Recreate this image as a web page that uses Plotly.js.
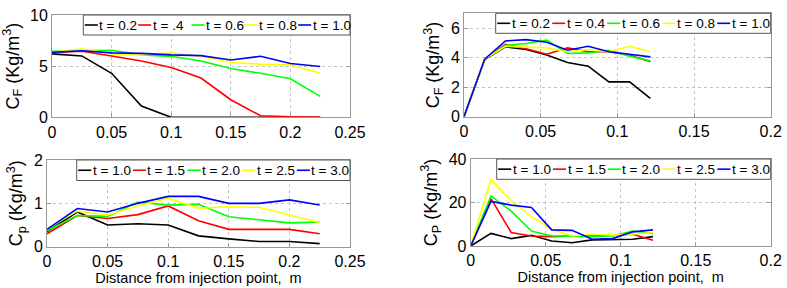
<!DOCTYPE html>
<html>
<head>
<meta charset="utf-8">
<script src="https://cdn.plot.ly/plotly-3.0.1.min.js"></script>
<style>html,body{margin:0;padding:0;background:#fff;}#chart{width:787px;height:288px;}</style>
</head>
<body>
<div id="chart"></div>
<script>
// ---------- data ----------
var xCoarse = [0, 0.025, 0.05, 0.075, 0.1, 0.125, 0.15, 0.175, 0.2, 0.225];
var xFine   = [0, 0.0135, 0.027, 0.0405, 0.054, 0.0675, 0.081, 0.0945, 0.108, 0.1215];

var seriesColors = ['#000000', '#ff0000', '#00ff00', '#ffff00', '#0000ff'];

var labelsTL = ['t = 0.2', 't = .4', 't = 0.6', 't = 0.8', 't = 1.0'];
var labelsTR = ['t = 0.2', 't = 0.4', 't = 0.6', 't = 0.8', 't = 1.0'];
var labelsB  = ['t = 1.0', 't = 1.5', 't = 2.0', 't = 2.5', 't = 3.0'];

// top-left: C_F vs distance
var cfA_t02 = [6.2, 6.0, 4.3, 1.1, 0, 0, 0, 0, 0, 0];
var cfA_t04 = [6.35, 6.45, 6.0, 5.5, 4.87, 3.84, 1.72, 0.15, 0.05, 0];
var cfA_t06 = [6.45, 6.5, 6.55, 6.1, 5.96, 5.5, 4.77, 4.3, 3.77, 2.05];
var cfA_t08 = [6.35, 6.7, 6.2, 6.1, 6.3, 5.96, 5.36, 5.2, 5.13, 4.3];
var cfA_t10 = [6.35, 6.5, 6.3, 6.25, 6.1, 6.03, 5.6, 5.96, 5.26, 4.97];

// top-right: C_F vs distance
var cfB_t02 = [0, 3.87, 4.73, 4.55, 4.17, 3.67, 3.42, 2.36, 2.36, 1.24];
var cfB_t04 = [0, 3.9, 4.9, 4.6, 4.23, 4.66, 4.4, 4.4, 4.17, 3.72];
var cfB_t06 = [0, 3.9, 4.84, 4.95, 5.18, 4.28, 4.32, 4.5, 4.1, 3.78];
var cfB_t08 = [0, 3.9, 4.77, 4.73, 4.66, 4.4, 4.55, 4.4, 4.77, 4.4];
var cfB_t10 = [0, 3.9, 5.13, 5.22, 5.04, 4.5, 4.77, 4.4, 4.23, 4.05];

// bottom-left: C_p vs distance
var cpA_t10 = [0.35, 0.8, 0.5, 0.53, 0.5, 0.25, 0.18, 0.12, 0.12, 0.07];
var cpA_t15 = [0.3, 0.72, 0.65, 0.74, 0.94, 0.6, 0.4, 0.4, 0.4, 0.3];
var cpA_t20 = [0.37, 0.72, 0.7, 1.03, 0.96, 0.98, 0.69, 0.62, 0.55, 0.57];
var cpA_t25 = [0.42, 0.82, 0.73, 0.94, 1.12, 0.89, 0.92, 0.91, 0.73, 0.56];
var cpA_t30 = [0.4, 0.88, 0.8, 1.0, 1.16, 1.16, 1.0, 1.0, 1.08, 0.96];

// bottom-right: C_P vs distance
var cpB_t10 = [0, 5.8, 3.4, 4.9, 2.3, 1.5, 2.8, 2.8, 3.1, 4.3];
var cpB_t15 = [0, 21.8, 6.2, 4.6, 4.3, 4.6, 4.6, 5.2, 5.4, 2.6];
var cpB_t20 = [0, 23, 16, 6.9, 4.6, 4.3, 4.3, 4.6, 6.9, 5.8];
var cpB_t25 = [0, 30.5, 20.8, 13.5, 7.7, 4.6, 5.4, 5.1, 5.4, 6.2];
var cpB_t30 = [0, 20.5, 18.8, 17.7, 7.4, 7.2, 3.1, 3.4, 6.5, 7.4];

// ---------- build ----------
var W = 787, H = 288;
function px(x) { return x / W; }
function py(y) { return 1 - y / H; }

var panels = [
  {xa: 'x',  ya: 'y',  x: xCoarse, ys: [cfA_t02, cfA_t04, cfA_t06, cfA_t08, cfA_t10], labels: labelsTL,
   box: [83.3, 15, 350, 35]},
  {xa: 'x2', ya: 'y2', x: xFine,   ys: [cfB_t02, cfB_t04, cfB_t06, cfB_t08, cfB_t10], labels: labelsTR,
   box: [495.7, 13.3, 770.7, 33.3]},
  {xa: 'x3', ya: 'y3', x: xCoarse, ys: [cpA_t10, cpA_t15, cpA_t20, cpA_t25, cpA_t30], labels: labelsB,
   box: [76.7, 160, 350, 180.5]},
  {xa: 'x4', ya: 'y4', x: xFine,   ys: [cpB_t10, cpB_t15, cpB_t20, cpB_t25, cpB_t30], labels: labelsB,
   box: [496.7, 159, 770.7, 179.3]}
];

var traces = [];
var shapes = [];
var annotations = [];
var FONT = '"Liberation Sans", Arial, Helvetica, sans-serif';

panels.forEach(function (p) {
  p.ys.forEach(function (vals, i) {
    traces.push({
      x: p.x, y: vals, xaxis: p.xa, yaxis: p.ya, type: 'scatter', mode: 'lines',
      name: p.labels[i], showlegend: false,
      line: {color: seriesColors[i], width: 1.6}
    });
  });
  // legend box
  var b = p.box;
  shapes.push({type: 'rect', xref: 'paper', yref: 'paper', layer: 'above',
    x0: px(b[0]), x1: px(b[2]), y0: py(b[3]), y1: py(b[1]),
    fillcolor: '#ffffff', line: {color: '#555555', width: 1}});
  var itemW = (b[2] - b[0]) / p.labels.length;
  var cy = (b[1] + b[3]) / 2;
  p.labels.forEach(function (lab, i) {
    var x0 = b[0] + 1.5 + i * itemW;
    shapes.push({type: 'line', xref: 'paper', yref: 'paper', layer: 'above',
      x0: px(x0), x1: px(x0 + 13), y0: py(cy), y1: py(cy),
      line: {color: seriesColors[i], width: 1.6}});
    annotations.push({xref: 'paper', yref: 'paper', x: px(x0 + 12.5), y: py(cy + 0.5),
      xanchor: 'left', yanchor: 'middle', showarrow: false, text: lab,
      font: {family: FONT, size: 13.5, color: '#000'}});
  });
});

function xAxis(dom, anchor, range, withTitle) {
  var a = {
    domain: dom, anchor: anchor, range: range, dtick: 0.05, tick0: 0,
    showline: true, mirror: 'ticks', linecolor: '#999999', linewidth: 1,
    ticks: 'inside', ticklen: 4, tickcolor: '#999999',
    showgrid: true, gridcolor: '#c4c4c4', griddash: 'dot', gridwidth: 1,
    zeroline: false, tickfont: {family: FONT, size: 16, color: '#000'},
    fixedrange: true
  };
  if (withTitle) {
    a.title = {text: 'Distance from injection point,  m', standoff: 0,
      font: {family: FONT, size: 14.5, color: '#000'}};
  }
  return a;
}
function yAxis(dom, anchor, range, dtick, title) {
  return {
    domain: dom, anchor: anchor, range: range, dtick: dtick, tick0: 0,
    showline: true, mirror: 'ticks', linecolor: '#999999', linewidth: 1,
    ticks: 'inside', ticklen: 4, tickcolor: '#999999',
    showgrid: true, gridcolor: '#c4c4c4', griddash: 'dot', gridwidth: 1,
    zeroline: false, tickfont: {family: FONT, size: 16, color: '#000'},
    title: {text: title, standoff: 6, font: {family: FONT, size: 18, color: '#000'}},
    fixedrange: true
  };
}

var layout = {
  width: W, height: H,
  margin: {l: 0, r: 0, t: 0, b: 0},
  paper_bgcolor: '#ffffff', plot_bgcolor: '#ffffff',
  showlegend: false,
  xaxis:  xAxis([px(52), px(350)], 'y', [0, 0.25], false),
  yaxis:  yAxis([py(117.3), py(15)], 'x', [0, 10], 5, 'C<sub>F</sub> (Kg/m<sup>3</sup>)'),
  xaxis2: xAxis([px(464), px(770.7)], 'y2', [0, 0.2], false),
  yaxis2: yAxis([py(116.7), py(13.3)], 'x2', [0, 7], 2, 'C<sub>F</sub> (Kg/m<sup>3</sup>)'),
  xaxis3: xAxis([px(47), px(350)], 'y3', [0, 0.25], true),
  yaxis3: yAxis([py(246.7), py(160)], 'x3', [0, 2], 1, 'C<sub>p</sub> (Kg/m<sup>3</sup>)'),
  xaxis4: xAxis([px(470.7), px(770.7)], 'y4', [0, 0.2], true),
  yaxis4: yAxis([py(246), py(159)], 'x4', [0, 40], 20, 'C<sub>P</sub> (Kg/m<sup>3</sup>)'),
  shapes: shapes,
  annotations: annotations
};

Plotly.newPlot('chart', traces, layout, {staticPlot: true, displayModeBar: false});
</script>
</body>
</html>
